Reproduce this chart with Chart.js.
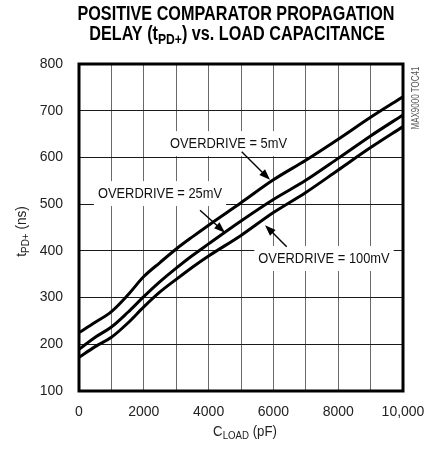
<!DOCTYPE html>
<html>
<head>
<meta charset="utf-8">
<script src="https://cdn.jsdelivr.net/npm/chart.js@4.4.1/dist/chart.umd.min.js"></script>
<style>
  html, body { margin: 0; padding: 0; background: #fff; }
  #wrap { width: 424px; height: 452px; }
</style>
</head>
<body>
<div id="wrap"><canvas id="chart" width="424" height="452"></canvas></div>
<script>
// Data (load capacitance in pF, delay in ns)
const loadCap = [0, 500, 1000, 1500, 2000, 2500, 3000, 3500, 4000, 5000, 6000, 7000, 8000, 9000, 10000];
const delay5mV = [225, 247, 270, 305, 345, 375, 404, 430, 455, 503, 552, 594, 639, 686, 730];
const delay25mV = [189, 215, 237, 268, 302, 334, 363, 390, 415, 464, 510, 551, 598, 646, 691];
const delay100mV = [172, 195, 215, 245, 280, 312, 339, 365, 389, 433, 482, 525, 573, 621, 666];

// Tick labels
const xTickLabels = ["0", "2000", "4000", "6000", "8000", "10,000"];
const yTickLabels = ["100", "200", "300", "400", "500", "600", "700", "800"];

// Labels on the curves
const curveLabels = ["OVERDRIVE = 5mV", "OVERDRIVE = 25mV", "OVERDRIVE = 100mV"];

const FONT = '"Liberation Sans", Arial, sans-serif';

// Where the curve labels and their arrows sit (data units)
const notes = [
  { text: curveLabels[0], x: 4614, y: 620, from: [5022, 612], to: [5895, 552] },
  { text: curveLabels[1], x: 2500, y: 513, from: [3735, 487], to: [4506, 439] },
  { text: curveLabels[2], x: 7562, y: 374, from: [6410, 409], to: [5741, 455] },
];

function toPoints(ys) {
  return loadCap.map((x, i) => ({ x: x, y: ys[i] }));
}

// draw text made of parts, some of them subscript, squeezed horizontally
function drawRich(ctx, parts, cx, cy, size, weight, sx, color) {
  ctx.save();
  let total = 0;
  const widths = parts.map((p) => {
    ctx.font = `${weight} ${p.sub ? Math.round(size * 0.75) : size}px ${FONT}`;
    const w = ctx.measureText(p.t).width;
    total += w;
    return w;
  });
  ctx.translate(cx, cy);
  ctx.scale(sx, 1);
  ctx.fillStyle = color;
  ctx.textAlign = "left";
  ctx.textBaseline = "alphabetic";
  let x = -total / 2;
  parts.forEach((p, i) => {
    ctx.font = `${weight} ${p.sub ? Math.round(size * 0.75) : size}px ${FONT}`;
    ctx.fillText(p.t, x, p.sub ? size * 0.22 : 0);
    x += widths[i];
  });
  ctx.restore();
  return total * sx;
}

function drawArrow(ctx, x1, y1, x2, y2) {
  const ang = Math.atan2(y2 - y1, x2 - x1);
  const len = 11, half = 4;
  ctx.save();
  ctx.strokeStyle = "#000";
  ctx.fillStyle = "#000";
  ctx.lineWidth = 1.4;
  ctx.beginPath();
  ctx.moveTo(x1, y1);
  ctx.lineTo(x2 - Math.cos(ang) * len * 0.8, y2 - Math.sin(ang) * len * 0.8);
  ctx.stroke();
  ctx.beginPath();
  ctx.moveTo(x2, y2);
  ctx.lineTo(x2 - Math.cos(ang) * len + Math.sin(ang) * half, y2 - Math.sin(ang) * len - Math.cos(ang) * half);
  ctx.lineTo(x2 - Math.cos(ang) * len - Math.sin(ang) * half, y2 - Math.sin(ang) * len + Math.cos(ang) * half);
  ctx.closePath();
  ctx.fill();
  ctx.restore();
}

const overlay = {
  id: "overlay",
  beforeDatasetsDraw(chart) {
    const ctx = chart.ctx;
    const xs = chart.scales.x, ys = chart.scales.y;
    notes.forEach((n) => {
      const cx = xs.getPixelForValue(n.x);
      const by = ys.getPixelForValue(n.y);
      ctx.save();
      ctx.font = `14px ${FONT}`;
      const w = ctx.measureText(n.text).width * 0.92;
      ctx.fillStyle = "#fff";
      ctx.fillRect(cx - w / 2 - 4, by - 17, w + 8, 25);
      ctx.restore();
      drawRich(ctx, [{ t: n.text }], cx, by, 14, "normal", 0.92, "#111");
      drawArrow(ctx,
        xs.getPixelForValue(n.from[0]), ys.getPixelForValue(n.from[1]),
        xs.getPixelForValue(n.to[0]), ys.getPixelForValue(n.to[1]));
    });
  },
  afterDatasetsDraw(chart) {
    const ctx = chart.ctx;
    const a = chart.chartArea;
    ctx.save();
    ctx.strokeStyle = "#000";
    ctx.lineWidth = 3;
    ctx.strokeRect(a.left, a.top, a.right - a.left, a.bottom - a.top);
    ctx.restore();
  },
  afterDraw(chart) {
    const ctx = chart.ctx;
    const a = chart.chartArea;
    // title
    drawRich(ctx, [{ t: "POSITIVE COMPARATOR PROPAGATION" }], 236, 19.5, 20, "bold", 0.81, "#000");
    drawRich(ctx, [{ t: "DELAY (t" }, { t: "PD+", sub: true }, { t: ") vs. LOAD CAPACITANCE" }], 237, 39.5, 20, "bold", 0.81, "#000");
    // x axis title
    drawRich(ctx, [{ t: "C" }, { t: "LOAD", sub: true }, { t: " (pF)" }], 245, 436, 15, "normal", 0.88, "#222");
    // y axis title
    ctx.save();
    ctx.translate(26, (a.top + a.bottom) / 2 + 4);
    ctx.rotate(-Math.PI / 2);
    drawRich(ctx, [{ t: "t" }, { t: "PD+", sub: true }, { t: " (ns)" }], 0, 0, 15, "normal", 0.9, "#222");
    ctx.restore();
    // figure id
    ctx.save();
    ctx.translate(419, 98);
    ctx.rotate(-Math.PI / 2);
    drawRich(ctx, [{ t: "MAX9000 TOC41" }], 0, 0, 10, "normal", 0.8, "#555");
    ctx.restore();
  },
};

const lineStyle = {
  borderColor: "#000",
  borderWidth: 3,
  pointRadius: 0,
  fill: false,
  cubicInterpolationMode: "monotone",
};

new Chart(document.getElementById("chart"), {
  type: "line",
  data: {
    datasets: [
      { label: curveLabels[0], data: toPoints(delay5mV), ...lineStyle },
      { label: curveLabels[1], data: toPoints(delay25mV), ...lineStyle },
      { label: curveLabels[2], data: toPoints(delay100mV), ...lineStyle },
    ],
  },
  options: {
    responsive: false,
    animation: false,
    layout: { padding: { top: 64, right: 21, left: 0, bottom: 0 } },
    plugins: {
      legend: { display: false },
      tooltip: { enabled: false },
      title: { display: false },
    },
    scales: {
      x: {
        type: "linear",
        min: 0,
        max: 10000,
        grid: { color: "#6a6a6a", lineWidth: 1, drawTicks: false },
        border: { display: false },
        ticks: {
          stepSize: 1000,
          autoSkip: false,
          maxRotation: 0,
          padding: 13,
          color: "#222",
          font: { family: FONT, size: 14 },
          callback: (v) => (v % 2000 === 0 ? xTickLabels[v / 2000] : ""),
        },
        afterFit: (s) => {
          s.height = 61;
          s.paddingLeft = 0;
          s.paddingRight = 0;
        },
      },
      y: {
        min: 100,
        max: 800,
        grid: { color: "#1a1a1a", lineWidth: 1, drawTicks: false },
        border: { display: false },
        ticks: {
          stepSize: 100,
          padding: 16,
          color: "#222",
          font: { family: FONT, size: 14 },
          callback: (v) => yTickLabels[(v - 100) / 100],
        },
        afterFit: (s) => {
          s.width = 79;
          s.paddingTop = 0;
          s.paddingBottom = 0;
        },
      },
    },
  },
  plugins: [overlay],
});
</script>
</body>
</html>
